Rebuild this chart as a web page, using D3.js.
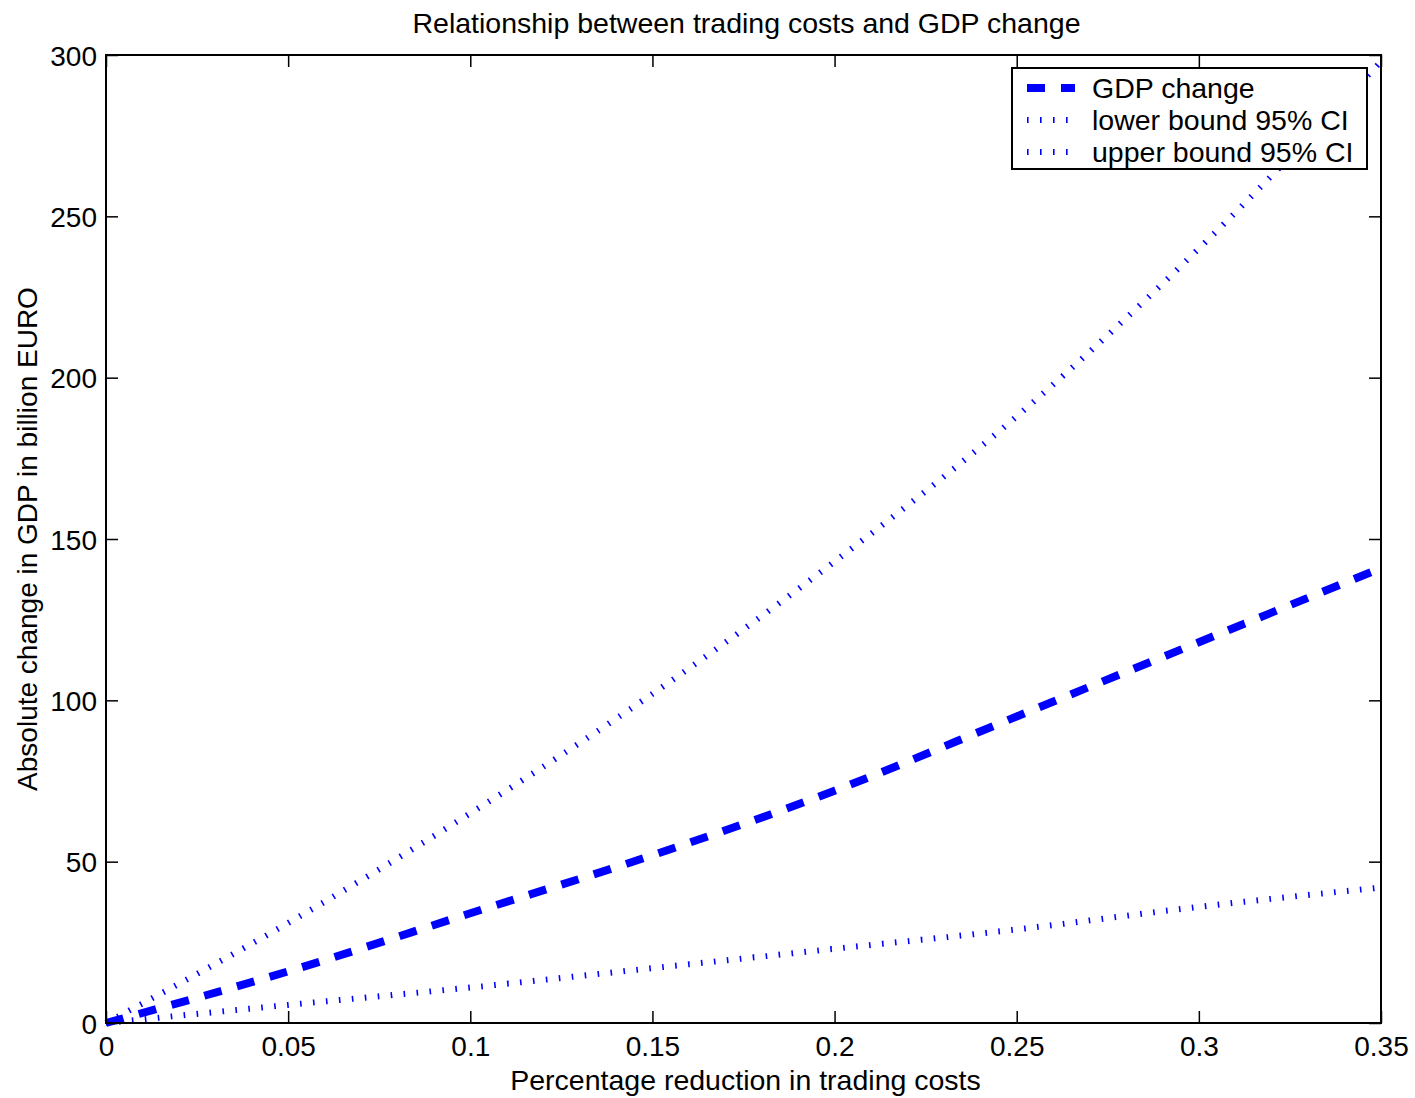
<!DOCTYPE html>
<html>
<head>
<meta charset="utf-8">
<script src="https://cdn.jsdelivr.net/npm/d3@7"></script>
<style>
  body { margin: 0; background: #fff; }
  svg text { font-family: "Liberation Sans", Arial, sans-serif; fill: #000; }
</style>
</head>
<body>
<div id="chart"></div>
<script>
// data
const reductions = [0, 0.05, 0.1, 0.15, 0.2, 0.25, 0.3, 0.35];
const gdpChange = [0, 16, 34, 52, 72, 95, 118, 141];
const lowerBound = [0, 5.6, 11, 17, 23, 29, 36, 42];
const upperBound = [0, 31, 65, 102, 143, 188, 240, 298];

const xTicks = [0, 0.05, 0.1, 0.15, 0.2, 0.25, 0.3, 0.35];
const xTickLabels = ['0', '0.05', '0.1', '0.15', '0.2', '0.25', '0.3', '0.35'];
const yTicks = [0, 50, 100, 150, 200, 250, 300];
const yTickLabels = ['0', '50', '100', '150', '200', '250', '300'];

const seriesNames = ['GDP change', 'lower bound 95% CI', 'upper bound 95% CI'];

const width = 1415;
const height = 1098;
const margin = { top: 55, right: 34, bottom: 75, left: 106 };
const fontSize = 28;
const titleSize = 28.5;

const svg = d3.select('#chart')
  .append('svg')
  .attr('width', width)
  .attr('height', height);

const x = d3.scaleLinear()
  .domain([0, 0.35])
  .range([margin.left, width - margin.right]);

const y = d3.scaleLinear()
  .domain([0, 300])
  .range([height - margin.bottom, margin.top]);

// series lines
const line = d3.line()
  .x((d, i) => x(reductions[i]))
  .y(d => y(d))
  .curve(d3.curveMonotoneX);

const plot = svg.append('g');

plot.append('path')
  .datum(lowerBound)
  .attr('d', line)
  .attr('fill', 'none')
  .attr('stroke', '#0000ff')
  .attr('stroke-width', 6)
  .attr('stroke-dasharray', '1.6,11.4');

plot.append('path')
  .datum(upperBound)
  .attr('d', line)
  .attr('fill', 'none')
  .attr('stroke', '#0000ff')
  .attr('stroke-width', 6)
  .attr('stroke-dasharray', '1.6,11.4');

plot.append('path')
  .datum(gdpChange)
  .attr('d', line)
  .attr('fill', 'none')
  .attr('stroke', '#0000ff')
  .attr('stroke-width', 8)
  .attr('stroke-dasharray', '18,16');

// axes (ticks pointing inward, box style)
const tickLen = 12;

const xAxis = d3.axisBottom(x)
  .tickValues(xTicks)
  .tickFormat((d, i) => xTickLabels[i])
  .tickSize(-tickLen)
  .tickPadding(13);

const yAxis = d3.axisLeft(y)
  .tickValues(yTicks)
  .tickFormat((d, i) => yTickLabels[i])
  .tickSize(-tickLen)
  .tickPadding(9);

const gx = svg.append('g')
  .attr('transform', `translate(0,${height - margin.bottom})`)
  .call(xAxis);

const gy = svg.append('g')
  .attr('transform', `translate(${margin.left},0)`)
  .call(yAxis);

const gxTop = svg.append('g')
  .attr('transform', `translate(0,${margin.top})`)
  .call(d3.axisTop(x).tickValues(xTicks).tickFormat('').tickSize(-tickLen));

const gyRight = svg.append('g')
  .attr('transform', `translate(${width - margin.right},0)`)
  .call(d3.axisRight(y).tickValues(yTicks).tickFormat('').tickSize(-tickLen));

[gx, gy, gxTop, gyRight].forEach(g => {
  g.select('.domain').remove();
  g.selectAll('.tick line').attr('stroke', '#000').attr('stroke-width', 1.5);
  g.selectAll('.tick text')
    .style('font-family', '"Liberation Sans", Arial, sans-serif')
    .style('font-size', fontSize + 'px')
    .attr('fill', '#000');
});

gx.selectAll('.tick text').attr('dy', '0.71em');
gy.selectAll('.tick text').attr('dy', '0.36em');

svg.append('rect')
  .attr('x', margin.left)
  .attr('y', margin.top)
  .attr('width', width - margin.left - margin.right)
  .attr('height', height - margin.top - margin.bottom)
  .attr('fill', 'none')
  .attr('stroke', '#000')
  .attr('stroke-width', 2);

// title and axis labels
svg.append('text')
  .attr('x', (margin.left + width - margin.right) / 2 + 3)
  .attr('y', 33)
  .attr('text-anchor', 'middle')
  .style('font-size', titleSize + 'px')
  .text('Relationship between trading costs and GDP change');

svg.append('text')
  .attr('x', (margin.left + width - margin.right) / 2 + 2)
  .attr('y', 1090)
  .attr('text-anchor', 'middle')
  .style('font-size', titleSize + 'px')
  .text('Percentage reduction in trading costs');

svg.append('text')
  .attr('transform', `translate(37,${(margin.top + height - margin.bottom) / 2}) rotate(-90)`)
  .attr('text-anchor', 'middle')
  .style('font-size', fontSize + 'px')
  .text('Absolute change in GDP in billion EURO');

// legend
const legend = svg.append('g');

legend.append('rect')
  .attr('x', 1012)
  .attr('y', 68)
  .attr('width', 355)
  .attr('height', 101)
  .attr('fill', '#fff')
  .attr('stroke', '#000')
  .attr('stroke-width', 2);

const rowY = [88, 120, 152];
const legendStyles = [
  { w: 8, dash: '18,16' },
  { w: 6, dash: '1.6,11.4' },
  { w: 6, dash: '1.6,11.4' }
];

seriesNames.forEach((name, i) => {
  legend.append('line')
    .attr('x1', 1027)
    .attr('x2', 1075)
    .attr('y1', rowY[i])
    .attr('y2', rowY[i])
    .attr('stroke', '#0000ff')
    .attr('stroke-width', legendStyles[i].w)
    .attr('stroke-dasharray', legendStyles[i].dash);

  legend.append('text')
    .attr('x', 1092)
    .attr('y', rowY[i])
    .attr('dy', '0.36em')
    .style('font-size', titleSize + 'px')
    .text(name);
});
</script>
</body>
</html>
